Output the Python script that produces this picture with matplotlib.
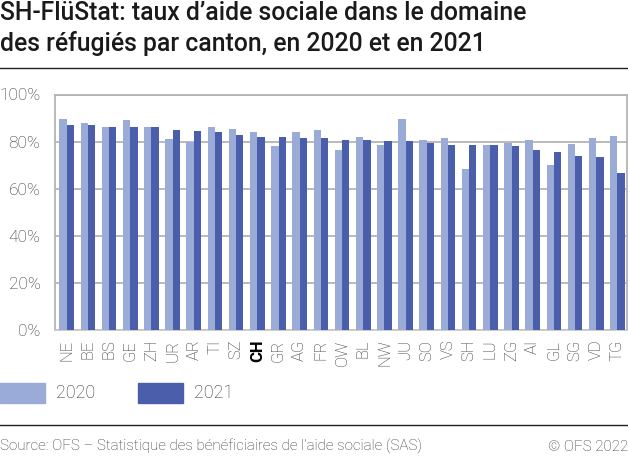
import numpy as np
import matplotlib
matplotlib.use("Agg")
import matplotlib.pyplot as plt
from matplotlib.patches import Rectangle
from matplotlib.lines import Line2D

plt.rcParams['font.family'] = ['Roboto', 'DejaVu Sans']

cantons = ["NE", "BE", "BS", "GE", "ZH", "UR", "AR", "TI", "SZ", "CH", "GR", "AG", "FR", "OW",
           "BL", "NW", "JU", "SO", "VS", "SH", "LU", "ZG", "AI", "GL", "SG", "VD", "TG"]
rate_2020 = [89.7, 87.9, 86.0, 89.3, 86.0, 81.0, 80.0, 86.3, 85.5, 84.2, 78.2, 84.2, 84.9, 76.3,
             82.1, 78.6, 89.7, 80.6, 81.5, 68.5, 78.6, 79.4, 80.6, 70.1, 79.0, 81.7, 82.4]
rate_2021 = [87.2, 87.1, 86.3, 86.2, 86.0, 84.9, 84.7, 84.1, 83.0, 82.0, 81.8, 81.7, 81.4, 80.6,
             80.5, 80.3, 80.1, 79.2, 78.7, 78.6, 78.5, 78.0, 76.6, 75.6, 74.0, 73.5, 66.6]
years = ["2020", "2021"]
yticks = [0, 20, 40, 60, 80, 100]

c2020 = "#9aabd8"
c2021 = "#4b5eab"
grid_c = "#b4b4b4"
text_c = "#333333"

fig = plt.figure(figsize=(6.28, 4.57), dpi=100)
ax = fig.add_axes([55 / 628, 127 / 457, 572 / 628, 235.5 / 457])

x = np.arange(len(cantons))
w = 0.345
ax.bar(x - w / 2, rate_2020, w, color=c2020, zorder=3)
ax.bar(x + w / 2, rate_2021, w, color=c2021, zorder=3)

ax.set_xlim(-0.55, len(cantons) - 0.55)
ax.set_ylim(0, 100)
ax.set_yticks(yticks)
ax.set_yticklabels([f"{v}%" for v in yticks], fontsize=12.5, color=text_c, fontweight='light')
ax.yaxis.grid(True, color=grid_c, linewidth=1.3, zorder=0)
ax.tick_params(axis='y', length=0, pad=10.5)
ax.tick_params(axis='x', length=0, pad=7)
ax.set_xticks(x)
ax.set_xticklabels(cantons, rotation=90, fontsize=12, color=text_c, fontweight='light')
for lab in ax.get_xticklabels():
    if lab.get_text() == "CH":
        lab.set_fontweight('bold')
        lab.set_color("#000000")
for side in ["left", "right", "top"]:
    ax.spines[side].set_color(grid_c)
    ax.spines[side].set_linewidth(1.3)
ax.spines["bottom"].set_color("#c8c8c8")
ax.spines["bottom"].set_linewidth(1.3)

# title
fig.text(0, 1 - 20 / 457, "SH-FlüStat: taux d’aide sociale dans le domaine",
         fontsize=17.8, fontweight='medium', color="#1a1a1a", va='baseline')
fig.text(0, 1 - 51.5 / 457, "des réfugiés par canton, en 2020 et en 2021",
         fontsize=17.8, fontweight='medium', color="#1a1a1a", va='baseline')
fig.add_artist(Line2D([0, 1], [1 - 68 / 457, 1 - 68 / 457], color="#222222", linewidth=1.0))

# legend
for px, col, lab in [(0, c2020, years[0]), (138.3, c2021, years[1])]:
    fig.add_artist(Rectangle((px / 628, 1 - 403 / 457), 44.5 / 628, 20 / 457,
                             color=col, transform=fig.transFigure))
    fig.text((px + 56) / 628, 1 - 393 / 457, lab, fontsize=13, color=text_c,
             fontweight='light', va='center')

# footer
fig.add_artist(Line2D([0, 1], [1 - 425 / 457, 1 - 425 / 457], color="#222222", linewidth=1.0))
fig.text(0, 1 - 451 / 457, "Source: OFS – Statistique des bénéficiaires de l’aide sociale (SAS)",
         fontsize=10.9, color=text_c, fontweight='light', va='baseline')
fig.text(1, 1 - 451 / 457, "© OFS 2022", fontsize=10.9, color=text_c, fontweight='light',
         va='baseline', ha='right')

fig.savefig("out.png", dpi=100)
